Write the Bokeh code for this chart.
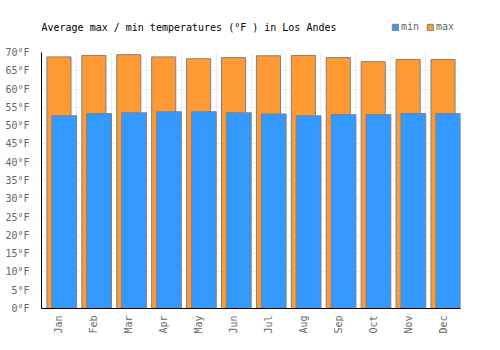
import math
from bokeh.plotting import figure
from bokeh.layouts import column
from bokeh.models import FixedTicker, Range1d, Legend, LegendItem, Label
from bokeh.embed import file_html
from bokeh.resources import INLINE

months = ["Jan", "Feb", "Mar", "Apr", "May", "Jun", "Jul", "Aug", "Sep", "Oct", "Nov", "Dec"]
max_temps = [68.8, 69.2, 69.4, 68.8, 68.3, 68.6, 69.1, 69.2, 68.6, 67.5, 68.1, 68.1]
min_temps = [52.7, 53.3, 53.5, 53.8, 53.8, 53.5, 53.2, 52.7, 53.0, 53.0, 53.3, 53.3]
y_ticks = list(range(0, 75, 5))
title_text = "Average max / min temperatures (°F ) in Los Andes"

FONT = "DejaVu Sans Mono"
BLUE = "#3399ff"
ORANGE = "#ff9933"
EDGE = "#808080"
LEFT = 41
RIGHT = 40

# ---- header (title + legend) ----
HEAD_H = 40
head = figure(width=500, height=HEAD_H, output_backend="svg", toolbar_location=None,
              x_range=Range1d(0, 1), y_range=Range1d(0, 1),
              x_axis_location=None, y_axis_location=None,
              min_border_left=LEFT, min_border_right=RIGHT,
              min_border_top=0, min_border_bottom=0)
head.grid.visible = False
head.outline_line_color = None
head.add_layout(Label(x=0, y=HEAD_H - 27, x_units="screen", y_units="screen",
                      text=title_text, text_font=FONT, text_font_size="10px",
                      text_color="#000000", text_baseline="middle"))
# legend-only proxies (hidden renderers, shown only through the legend)
h_min = head.vbar(x=[0.5], top=[0.5], width=0.1, fill_color=BLUE, line_color=EDGE)
h_max = head.vbar(x=[0.5], top=[0.5], width=0.1, fill_color=ORANGE, line_color=EDGE)
h_min.visible = False
h_max.visible = False
legend = Legend(items=[LegendItem(label="min", renderers=[h_min], index=0),
                       LegendItem(label="max", renderers=[h_max], index=0)],
                orientation="horizontal", location=(391 - LEFT, HEAD_H - 32))
legend.border_line_color = None
legend.background_fill_alpha = 0
legend.inactive_fill_alpha = 0
legend.glyph_width = 8
legend.glyph_height = 8
legend.label_text_font = FONT
legend.label_text_font_size = "10px"
legend.label_text_color = "#666666"
legend.label_standoff = 2
legend.label_width = 0
legend.label_height = 8
legend.spacing = 7
legend.padding = 0
legend.margin = 0
head.add_layout(legend, "center")

# ---- main chart ----
p = figure(width=500, height=350 - HEAD_H, output_backend="svg", toolbar_location=None,
           x_range=Range1d(0, 12), y_range=Range1d(0, 70),
           min_border_left=LEFT, min_border_right=RIGHT, min_border_top=52 - HEAD_H,
           min_border_bottom=42)
p.outline_line_color = None

xs = list(range(len(months)))
x_max = [i + 0.5 for i in xs]
x_min = [i + 0.65 for i in xs]

p.vbar(x=x_max, top=max_temps, width=0.69, bottom=0,
       fill_color=ORANGE, line_color=EDGE, line_width=1)
p.vbar(x=x_min, top=min_temps, width=0.71, bottom=0,
       fill_color=BLUE, line_color=EDGE, line_width=1)

p.xaxis.ticker = FixedTicker(ticks=x_max)
p.xaxis.major_label_overrides = {x: m for x, m in zip(x_max, months)}
p.xaxis.major_label_orientation = math.pi / 2
p.yaxis.ticker = FixedTicker(ticks=y_ticks)
p.yaxis.major_label_overrides = {t: f"{t}°F" for t in y_ticks}
for ax in (p.xaxis, p.yaxis):
    ax.axis_line_color = "black"
    ax.axis_line_width = 1
    ax.major_tick_line_color = None
    ax.minor_tick_line_color = None
    ax.major_label_text_font = FONT
    ax.major_label_text_font_size = "10px"
    ax.major_label_text_color = "#666666"
p.yaxis.major_label_standoff = 6
p.xaxis.major_label_standoff = 1

p.xgrid.ticker = FixedTicker(ticks=list(range(0, 13)))
p.xgrid.grid_line_color = "#eeeeee"
p.ygrid.grid_line_color = "#eeeeee"

open("out.html", "w").write(file_html(column(head, p, spacing=0), INLINE))
